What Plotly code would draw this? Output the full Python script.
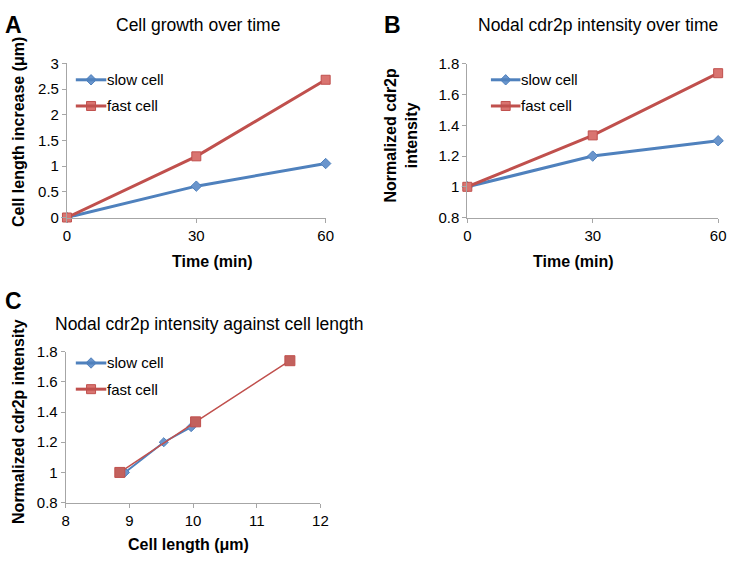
import plotly.graph_objects as go

# Panel A: cell growth
time_min = [0, 30, 60]
growth_slow = [0, 0.61, 1.05]
growth_fast = [0, 1.19, 2.68]

# Panel B: nodal cdr2p intensity over time
cdr2p_slow = [1.0, 1.2, 1.3]
cdr2p_fast = [1.0, 1.335, 1.74]

# Panel C: intensity vs cell length
length_slow = [8.93, 9.54, 9.97]
length_fast = [8.85, 10.04, 11.52]
cdr2p_slow_c = [1.0, 1.2, 1.3]
cdr2p_fast_c = [1.0, 1.335, 1.74]

ticks_A_y = [0, 0.5, 1, 1.5, 2, 2.5, 3]
ticks_A_y_text = ["0", "0.5", "1", "1.5", "2", "2.5", "3"]
ticks_BC_y = [0.8, 1.0, 1.2, 1.4, 1.6, 1.8]
ticks_BC_y_text = ["0.8", "1", "1.2", "1.4", "1.6", "1.8"]
ticks_time = [0, 30, 60]
ticks_len = [8, 9, 10, 11, 12]

W, H = 735, 563
BLUE = "#4F81BD"
RED = "#C0504D"
FONT = "Liberation Sans, Arial, sans-serif"

def px(x):
    return x / W

def py(y):
    return 1 - y / H

fig = go.Figure()

def add_series(x, y, xa, ya, color, symbol, size, width, fill, name):
    fig.add_trace(go.Scatter(
        x=x, y=y, xaxis=xa, yaxis=ya, mode="lines+markers", name=name,
        line=dict(color=color, width=width),
        marker=dict(symbol=symbol, size=size, color=fill, line=dict(color=color, width=1)),
        showlegend=False, cliponaxis=False))

add_series(time_min, growth_slow, "x", "y", BLUE, "diamond", 8, 3, "#6A95CC", "slow cell")
add_series(time_min, growth_fast, "x", "y", RED, "square", 9, 3, "#D97470", "fast cell")
add_series(time_min, cdr2p_slow, "x2", "y2", BLUE, "diamond", 8, 3, "#6A95CC", "slow cell")
add_series(time_min, cdr2p_fast, "x2", "y2", RED, "square", 9, 3, "#D97470", "fast cell")
add_series(length_slow, cdr2p_slow_c, "x3", "y3", BLUE, "diamond", 7, 2, "#6A95CC", "slow cell")
add_series(length_fast, cdr2p_fast_c, "x3", "y3", RED, "square", 10, 1.5, "#C2615D", "fast cell")

axis_common = dict(showgrid=False, zeroline=False, showline=True, linecolor="#A6A6A6",
                   linewidth=1, ticks="outside", ticklen=4, tickcolor="#A6A6A6",
                   tickfont=dict(family=FONT, size=15, color="black"), fixedrange=True)

fig.update_layout(
    width=W, height=H, margin=dict(l=0, r=0, t=0, b=0),
    plot_bgcolor="rgba(0,0,0,0)", paper_bgcolor="white",
    xaxis=dict(domain=[px(64), px(327)], range=[0, 60], tickvals=ticks_time, anchor="y", **axis_common),
    yaxis=dict(domain=[py(215), py(56)], range=[0, 3], tickvals=ticks_A_y, ticktext=ticks_A_y_text, anchor="x", **axis_common),
    xaxis2=dict(domain=[px(471), px(726)], range=[0, 60], tickvals=ticks_time, anchor="y2", **axis_common),
    yaxis2=dict(domain=[py(215), py(56.7)], range=[0.8, 1.8], tickvals=ticks_BC_y, ticktext=ticks_BC_y_text, anchor="x2", **axis_common),
    xaxis3=dict(domain=[px(62.7), px(321.7)], range=[8, 12], tickvals=ticks_len, anchor="y3", **axis_common),
    yaxis3=dict(domain=[py(509), py(353.3)], range=[0.8, 1.8], tickvals=ticks_BC_y, ticktext=ticks_BC_y_text, anchor="x3", **axis_common),
)

def text(x, y, s, size=13, bold=False, angle=0, xanchor="center"):
    if bold:
        s = "<b>" + s + "</b>"
    fig.add_annotation(x=px(x), y=py(y), xref="paper", yref="paper", text=s, showarrow=False,
                       font=dict(family=FONT, size=size, color="black"), textangle=angle,
                       xanchor=xanchor, yanchor="middle", borderpad=0)

# panel letters
text(10, 16, "A", size=23, bold=True)
text(395, 16, "B", size=23, bold=True)
text(10, 301, "C", size=23, bold=True)

# titles
text(197, 17, "Cell growth over time", size=17.5)
text(604, 17, "Nodal cdr2p intensity over time", size=17.5)
text(208, 325, "Nodal cdr2p intensity against cell length", size=17.5)

# axis titles
text(212, 260, "Time (min)", size=16, bold=True)
text(579, 260, "Time (min)", size=16, bold=True)
text(188, 552, "Cell length (μm)", size=16, bold=True)
text(14, 127, "Cell length increase (μm)", size=16, bold=True, angle=-90)
text(404, 130, "Normalized cdr2p<br>intensity", size=16, bold=True, angle=-90)
text(14, 425, "Normalized cdr2p intensity", size=16, bold=True, angle=-90)

# legends
legend_labels = ["slow cell", "fast cell"]
legend_colors = [BLUE, RED]
legend_symbols = ["diamond", "square"]
legend_fills = ["#6A95CC", "#D97470"]
legend_sizes = [8, 9]
legend_pos = [(73, 104, 73, 100), (495, 525, 73, 100), (73, 104, 365, 392)]
for (x0, x1, ya, yb) in legend_pos:
    for i, yy in enumerate([ya, yb]):
        fig.add_shape(type="line", xref="paper", yref="paper", x0=px(x0), x1=px(x1), y0=py(yy), y1=py(yy),
                      line=dict(color=legend_colors[i], width=3))
        fig.add_trace(go.Scatter(x=[px((x0 + x1) / 2)], y=[py(yy)], xaxis="x4", yaxis="y4", mode="markers",
                                 marker=dict(symbol=legend_symbols[i], size=legend_sizes[i], color=legend_fills[i],
                                             line=dict(color=legend_colors[i], width=1)),
                                 showlegend=False, hoverinfo="skip"))
        text(x1, yy, legend_labels[i], size=15, xanchor="left")

fig.update_layout(
    xaxis4=dict(domain=[0, 1], range=[0, 1], visible=False, anchor="y4", fixedrange=True),
    yaxis4=dict(domain=[0, 1], range=[0, 1], visible=False, anchor="x4", fixedrange=True),
)

fig.write_html("out.html", config={"displayModeBar": False},
               post_script="document.body.style.margin='0';")
